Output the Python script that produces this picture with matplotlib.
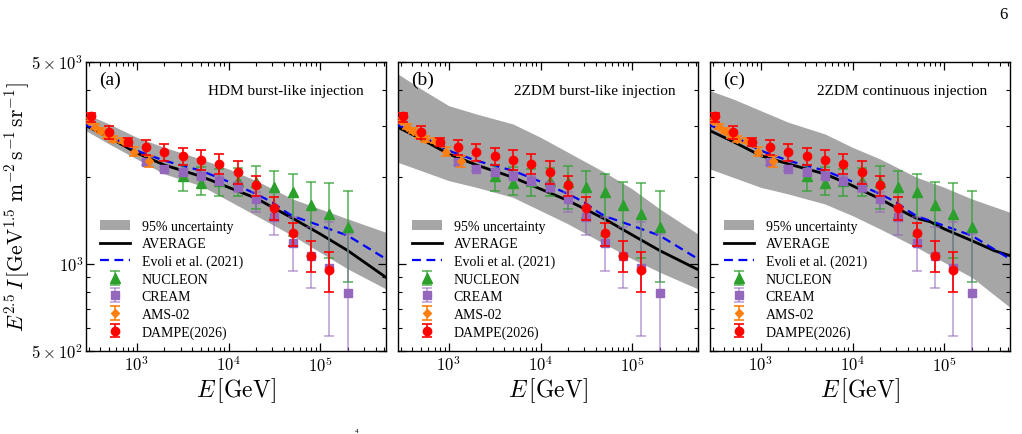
import matplotlib
matplotlib.use('Agg')
import matplotlib.pyplot as plt
from matplotlib.patches import Patch

plt.rcParams['font.family'] = ['Liberation Serif', 'DejaVu Serif']
plt.rcParams['mathtext.fontset'] = 'cm'

# ---------------- data ----------------
dampe_E = [316, 501, 794, 1259, 1995, 3162, 5012, 7943, 12589, 19953, 31623, 50119, 79433, 125893]
dampe_I = [3260, 2856, 2636, 2540, 2443, 2371, 2290, 2218, 2075, 1872, 1563, 1280, 1064, 956]
dampe_hi = [3331, 3011, 2722, 2693, 2595, 2527, 2474, 2397, 2266, 2022, 1706, 1387, 1201, 1103]
dampe_lo = [3093, 2708, 2555, 2384, 2273, 2201, 2110, 2044, 1897, 1715, 1417, 1157, 936, 798]

nucleon_E = [3162, 5012, 7943, 12589, 19953, 31623, 50119, 79433, 125893, 199526]
nucleon_I = [2011, 1907, 1932, 1932, 1927, 1842, 1780, 1605, 1490, 1347]
nucleon_hi = [2201, 2160, 2132, 2149, 2178, 2104, 2049, 1927, 1907, 1794]
nucleon_lo = [1789, 1733, 1724, 1724, 1550, 1439, 1253, 1069, 1046, 869]

cream_E = [1259, 1995, 3162, 5012, 7943, 12589, 19953, 31623, 50119, 79433, 125893, 199526]
cream_I = [2248, 2132, 2076, 2022, 1943, 1851, 1679, 1454, 1179, 1063, 967, 792]
cream_hi = [2291, 2173, 2132, 2076, 2011, 1927, 1770, 1592, 1450, 1339, 1401, 1270]
cream_lo = [2207, 2093, 2022, 1969, 1876, 1780, 1510, 1260, 948, 824, 565, 400]

ams_E = [305, 351, 405, 471, 556, 716, 944, 1377]
ams_I = [3133, 2987, 2893, 2795, 2708, 2672, 2448, 2278]
ams_hi = [3200, 3050, 2950, 2860, 2770, 2729, 2533, 2371]
ams_lo = [3070, 2925, 2835, 2730, 2645, 2616, 2358, 2160]

evoli_E = [280, 500, 1000, 2000, 5000, 1e4, 2e4, 3e4, 4e4, 5e4, 1e5, 2e5, 5.2e5]
evoli_I = [3027, 2780, 2467, 2278, 2104, 1927, 1747, 1635, 1530, 1465, 1357, 1253, 1041]

model_E = [280, 500, 1000, 2000, 5000, 1e4, 2e4, 5e4, 1e5, 2e5, 5.2e5]
a_avg = [3011, 2744, 2421, 2201, 2011, 1842, 1688, 1439, 1270, 1112, 899]
a_up = [3304, 3052, 2744, 2533, 2309, 2132, 1943, 1679, 1550, 1432, 1287]
a_low = [2893, 2602, 2309, 2049, 1866, 1657, 1470, 1253, 1097, 961, 820]

b_avg = [2972, 2708, 2402, 2201, 1995, 1818, 1657, 1432, 1260, 1112, 956]
b_up = [4545, 4034, 3531, 3304, 3052, 2744, 2434, 2076, 1818, 1550, 1270]
b_low = [2248, 2104, 1943, 1842, 1701, 1530, 1376, 1173, 1041, 936, 820]

c_E = [280, 500, 1000, 2000, 5000, 1e4, 2e4, 4e4, 5e4, 7e4, 1e5, 2e5, 3.5e5, 5.2e5]
c_avg = [2893, 2651, 2371, 2219, 2049, 1866, 1679, 1490, 1439, 1401, 1322, 1204, 1112, 1069]
c_up = [3980, 3724, 3393, 3093, 2818, 2533, 2309, 1995, 1842, 1679, 1510]
c_low = [2132, 1995, 1842, 1747, 1613, 1470, 1322, 1142, 1013, 899, 708]

panel_tags = ['(a)', '(b)', '(c)']
panel_titles = ['HDM burst-like injection', '2ZDM burst-like injection', '2ZDM continuous injection']
panel_avg = [(model_E, a_avg), (model_E, b_avg), (c_E, c_avg)]
panel_band = [(a_low, a_up), (b_low, b_up), (c_low, c_up)]

ytick_vals = [500, 1000, 5000]
ytick_labels = [r'$5\times10^2$', r'$10^3$', r'$5\times10^3$']
yminor_vals = [600, 700, 800, 900, 2000, 3000, 4000]
xtick_vals = [1e3, 1e4, 1e5]
xtick_labels = [r'$10^3$', r'$10^4$', r'$10^5$']

legend_labels = ['95% uncertainty', 'AVERAGE', 'Evoli et al. (2021)', 'NUCLEON', 'CREAM', 'AMS-02', 'DAMPE(2026)']

# ---------------- figure ----------------
W, H = 1022, 435
fig = plt.figure(figsize=(W / 100, H / 100), dpi=100)

lefts = [86, 398, 710]
ax_w, ax_top, ax_bot = 300, 63, 352

band_color = '#a6a6a6'
c_green = '#2ca02c'
c_purple = '#9467bd'
c_orange = '#ff7f0e'
c_red = '#ff0000'


def yerr(vals, lo, hi):
    return [[v - l for v, l in zip(vals, lo)], [h - v for v, h in zip(vals, hi)]]


for i in range(3):
    ax = fig.add_axes([lefts[i] / W, (H - ax_bot) / H, ax_w / W, (ax_bot - ax_top) / H])
    ax.set_xscale('log')
    ax.set_yscale('log')
    lo, up = panel_band[i]
    ax.fill_between(model_E, lo, up, color=band_color, lw=0, zorder=1)
    ex, ey = panel_avg[i]
    avg, = ax.plot(ex, ey, color='black', lw=2.0, zorder=2)
    ev, = ax.plot(evoli_E, evoli_I, color='#0000ff', lw=1.6, ls=(0, (4, 2.5)), zorder=3)

    nuc = ax.errorbar(nucleon_E, nucleon_I, yerr=yerr(nucleon_I, nucleon_lo, nucleon_hi),
                      fmt='^', color=c_green, ecolor=c_green, ms=6.5, capsize=3.5,
                      elinewidth=1.2, capthick=1.2, zorder=4)
    for art in list(nuc[1]) + list(nuc[2]):
        art.set_alpha(0.75)
    cr = ax.errorbar(cream_E, cream_I, yerr=yerr(cream_I, cream_lo, cream_hi),
                     fmt='s', color=c_purple, ecolor=c_purple, ms=6, capsize=3.5,
                     elinewidth=1.2, capthick=1.2, zorder=5)
    for art in list(cr[1]) + list(cr[2]):
        art.set_alpha(0.6)
    am = ax.errorbar(ams_E, ams_I, yerr=yerr(ams_I, ams_lo, ams_hi),
                     fmt='D', color=c_orange, ecolor=c_orange, ms=4, capsize=3.5,
                     elinewidth=1.2, capthick=1.2, zorder=6)
    da = ax.errorbar(dampe_E, dampe_I, yerr=yerr(dampe_I, dampe_lo, dampe_hi),
                     fmt='o', color=c_red, ecolor=c_red, ms=6, capsize=3.5,
                     elinewidth=1.2, capthick=1.2, zorder=7)

    ax.set_xlim(280, 5.2e5)
    ax.set_ylim(500, 5000)
    ax.set_xticks(xtick_vals)
    ax.set_xticklabels(xtick_labels)
    ax.set_yticks(ytick_vals)
    ax.set_yticks(yminor_vals, minor=True)
    if i == 0:
        ax.set_yticklabels(ytick_labels)
        ax.set_ylabel(r'$E^{2.5}\,I\,[\mathrm{GeV}^{1.5}\;\mathrm{m}^{-2}\,\mathrm{s}^{-1}\,\mathrm{sr}^{-1}]$',
                      fontsize=15.5)
        ax.yaxis.set_label_coords(-0.18, 0.5)
    else:
        ax.set_yticklabels([])
    ax.yaxis.set_minor_formatter(plt.NullFormatter())
    ax.tick_params(which='both', direction='in', top=True, right=True, labelsize=12)
    ax.tick_params(which='major', length=6, width=0.9)
    ax.tick_params(which='minor', length=3, width=0.8)
    ax.tick_params(axis='x', pad=3)
    ax.tick_params(axis='y', pad=2)
    for s in ax.spines.values():
        s.set_linewidth(1.0)
    ax.set_xlabel(r'$E\,[\mathrm{GeV}]$', fontsize=17)
    ax.xaxis.set_label_coords(0.5, -0.085)

    ax.text(0.045, 0.97, panel_tags[i], transform=ax.transAxes, fontsize=14,
            ha='left', va='top')
    ax.text(0.925, 0.90, panel_titles[i], transform=ax.transAxes, fontsize=11,
            ha='right', va='center')

    handles = [Patch(facecolor=band_color, edgecolor='none'), avg, ev, nuc, cr, am, da]
    ax.legend(handles, legend_labels, loc='lower left', bbox_to_anchor=(0.0, -0.005),
              frameon=False, fontsize=10, labelspacing=0.32, handlelength=2.2,
              handletextpad=0.8, borderaxespad=0.6)

fig.text(1003 / W, 1 - 15 / H, '6', fontsize=12, ha='center', va='center')
fig.text(357 / W, 0.002, '4', fontsize=5, ha='center', va='bottom')

fig.savefig('out.png', dpi=100)
